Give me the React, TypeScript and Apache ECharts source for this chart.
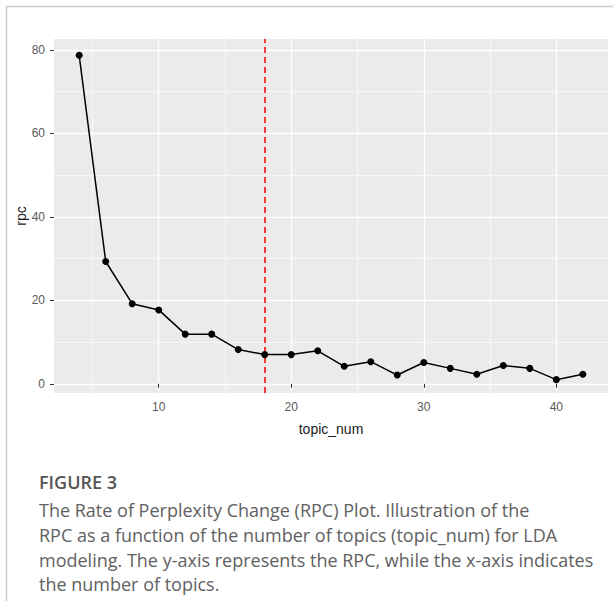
import React, { useEffect, useRef } from "react";
import * as echarts from "echarts";

const topicNum = [4, 6, 8, 10, 12, 14, 16, 18, 20, 22, 24, 26, 28, 30, 32, 34, 36, 38, 40, 42];
const rpc = [78.7, 29.3, 19.2, 17.7, 11.9, 11.9, 8.2, 7.0, 7.0, 7.9, 4.2, 5.3, 2.1, 5.1, 3.7, 2.3, 4.4, 3.7, 1.0, 2.3];
const xTicks = [10, 20, 30, 40];
const xMinor = [5, 15, 25, 35];
const yTicks = [0, 20, 40, 60, 80];
const yMinor = [10, 30, 50, 70];
const optimalTopic = 18;
const captionTitle = "FIGURE 3";
const captionLines = [
  "The Rate of Perplexity Change (RPC) Plot. Illustration of the",
  "RPC as a function of the number of topics (topic_num) for LDA",
  "modeling. The y-axis represents the RPC, while the x-axis indicates",
  "the number of topics.",
];

export default function App() {
  const ref = useRef<HTMLDivElement>(null);
  useEffect(() => {
    if (!ref.current) return;
    const chart = echarts.init(ref.current, undefined, { renderer: "svg" });
    const gridLine = (axis: "xAxis" | "yAxis", v: number, w: number) => ({
      [axis]: v,
      lineStyle: { color: "#FFFFFF", width: w, type: "solid" },
    });
    const captionY = [510, 535, 560, 584];
    chart.setOption({
      animation: false,
      backgroundColor: "#FFFFFF",
      grid: {
        left: 54,
        top: 39,
        width: 554,
        height: 354,
        show: true,
        backgroundColor: "#EBEBEB",
        borderWidth: 0,
      },
      xAxis: {
        type: "value",
        min: 2.1,
        max: 43.9,
        splitLine: { show: false },
        axisLine: { show: false },
        axisTick: { show: true, customValues: xTicks, length: 4, lineStyle: { color: "#333333", width: 1 } },
        axisLabel: { customValues: xTicks, color: "#5a5a5a", fontSize: 12, margin: 8, fontFamily: "Liberation Sans" },
        name: "topic_num",
        nameLocation: "middle",
        nameGap: 29,
        nameMoveOverlap: false,
        nameTextStyle: { color: "#1a1a1a", fontSize: 14, fontFamily: "Liberation Sans" },
      },
      yAxis: {
        type: "value",
        min: -2.2,
        max: 82.6,
        splitLine: { show: false },
        axisLine: { show: false },
        axisTick: { show: true, customValues: yTicks, length: 4, lineStyle: { color: "#333333", width: 1 } },
        axisLabel: { customValues: yTicks, color: "#5a5a5a", fontSize: 12, margin: 9, fontFamily: "Liberation Sans" },
        name: "rpc",
        nameLocation: "middle",
        nameRotate: 90,
        nameGap: 26,
        nameMoveOverlap: false,
        nameTextStyle: { color: "#1a1a1a", fontSize: 14, fontFamily: "Liberation Sans" },
      },
      graphic: [
        { type: "line", shape: { x1: 6, y1: 6.5, x2: 613, y2: 6.5 }, style: { stroke: "#CCCCCC", lineWidth: 1.5 } },
        { type: "line", shape: { x1: 6.5, y1: 6, x2: 6.5, y2: 601 }, style: { stroke: "#CCCCCC", lineWidth: 1.5 } },
        {
          type: "text",
          x: 39,
          y: 482,
          style: { text: captionTitle, fill: "#555555", font: "600 18px 'Open Sans'", verticalAlign: "middle" },
        },
        ...captionLines.map((t, i) => ({
          type: "text",
          x: 39,
          y: captionY[i],
          style: { text: t, fill: "#616161", font: "18px 'Open Sans'", verticalAlign: "middle" },
        })),
      ],
      series: [
        {
          type: "line",
          data: [],
          z: 0,
          silent: true,
          markLine: {
            z: 0,
            silent: true,
            symbol: "none",
            label: { show: false },
            data: [
              ...xMinor.map((v) => gridLine("xAxis", v, 0.6)),
              ...yMinor.map((v) => gridLine("yAxis", v, 0.6)),
              ...xTicks.map((v) => gridLine("xAxis", v, 1.3)),
              ...yTicks.map((v) => gridLine("yAxis", v, 1.3)),
            ],
          },
        },
        {
          type: "line",
          data: [],
          z: 1,
          silent: true,
          markLine: {
            z: 1,
            silent: true,
            symbol: "none",
            label: { show: false },
            data: [{ xAxis: optimalTopic, lineStyle: { color: "#FF0000", width: 1.5, type: [6, 4] } }],
          },
        },
        {
          type: "line",
          z: 3,
          data: topicNum.map((x, i) => [x, rpc[i]]),
          lineStyle: { color: "#000000", width: 1.5 },
          itemStyle: { color: "#000000" },
          symbol: "circle",
          symbolSize: 7,
          showSymbol: true,
        },
      ],
    });
    return () => chart.dispose();
  }, []);
  return <div ref={ref} style={{ position: "fixed", left: 0, top: 0, width: 613, height: 601 }} />;
}
